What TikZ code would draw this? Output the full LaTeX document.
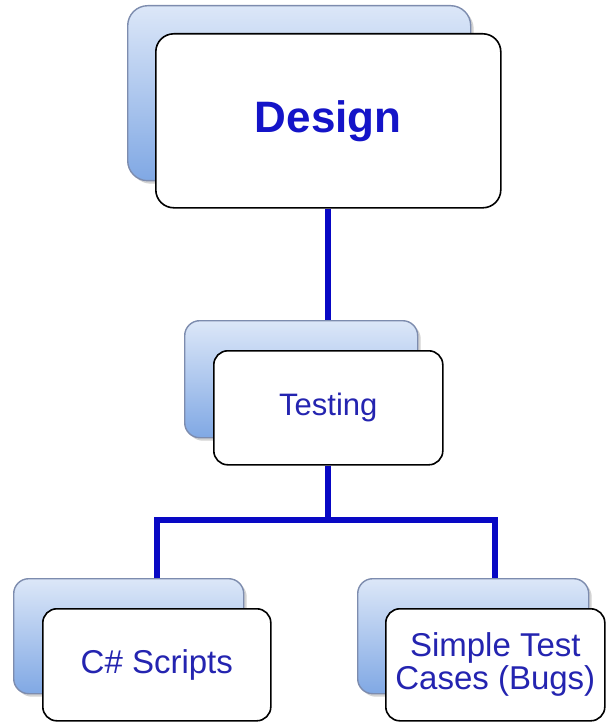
\documentclass[tikz,border=0pt]{standalone}
\usepackage{fontspec}
\setmainfont{Liberation Sans}
\usetikzlibrary{shadows}
\definecolor{backtop}{HTML}{DCE7F8}
\definecolor{backbot}{HTML}{80A8E4}
\definecolor{backedge}{HTML}{7D8CAE}
\definecolor{linkblue}{HTML}{0808C4}
\definecolor{txtblue}{HTML}{2424B0}
\definecolor{titleblue}{HTML}{1414C8}
\tikzset{
  backbox/.style={draw=backedge, line width=1.4pt, rounded corners=#1,
    top color=backtop, bottom color=backbot, inner sep=0pt,
    drop shadow={shadow xshift=3pt, shadow yshift=-3pt, opacity=0.35, fill=gray}},
  frontbox/.style={draw=black, line width=1.6pt, rounded corners=#1,
    fill=white, inner sep=0pt, text=txtblue, align=center},
  link/.style={draw=linkblue, line width=6pt, line join=miter}
}
\begin{document}
\begin{tikzpicture}[x=1pt,y=-1pt]
\useasboundingbox (0,0) rectangle (606,722);
% Design
\node[backbox=20pt, anchor=north west, minimum width=343pt, minimum height=175pt] (designback) at (127,5) {};
\node[frontbox=18pt, anchor=north west, minimum width=345pt, minimum height=174pt, text=titleblue,
  font=\fontsize{44}{50}\selectfont\bfseries] (design) at (155,33) {Design};
% Testing
\node[backbox=15pt, anchor=north west, minimum width=233pt, minimum height=117pt] (testingback) at (184,320) {};
\node[frontbox=14pt, anchor=north west, minimum width=229pt, minimum height=114pt,
  font=\fontsize{31}{36}\selectfont] (testing) at (213,350) {Testing};
% C# Scripts
\node[backbox=15pt, anchor=north west, minimum width=230pt, minimum height=115pt] (csback) at (13,578) {};
\node[frontbox=14pt, anchor=north west, minimum width=228pt, minimum height=112pt,
  font=\fontsize{33}{36}\selectfont] (cs) at (42,608) {C\# Scripts};
% Simple Test Cases
\node[backbox=15pt, anchor=north west, minimum width=231pt, minimum height=115pt] (simpleback) at (357,578) {};
\node[frontbox=14pt, anchor=north west, minimum width=219pt, minimum height=112pt,
  font=\fontsize{33}{33}\selectfont] (simple) at (385,608) {Simple Test\\Cases (Bugs)};
% connectors
\coordinate (bus) at (0,520);
\draw[link] (design.south) -- (design.south |- testingback.north);
\draw[link] (testing.south) -- (testing.south |- bus);
\draw[link] (cs.center |- csback.north) -- (cs.center |- bus) -- (simple.center |- bus) -- (simple.center |- simpleback.north);
\end{tikzpicture}
\end{document}
